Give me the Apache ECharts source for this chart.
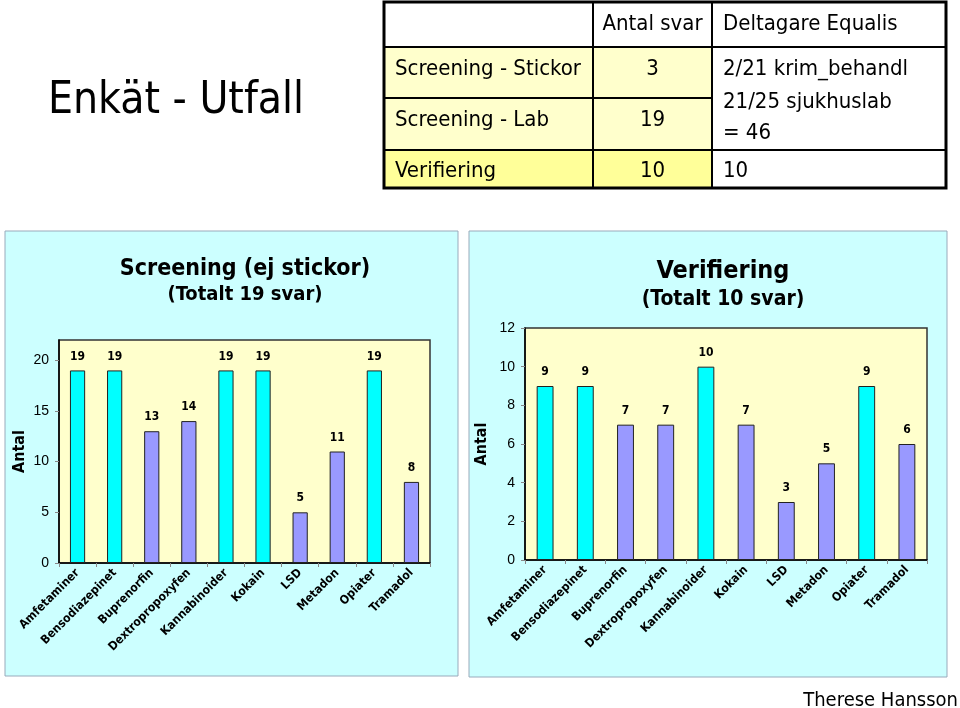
<!DOCTYPE html>
<html>
<head>
<meta charset="utf-8">
<script src="https://cdn.jsdelivr.net/npm/echarts@6/dist/echarts.min.js"></script>
<style>
html,body{margin:0;padding:0;background:#fff;}
#main{width:960px;height:708px;}
</style>
</head>
<body>
<div id="main"></div>
<script>
// ---- Data ----
const categories = ['Amfetaminer','Bensodiazepinet','Buprenorfin','Dextropropoxyfen','Kannabinoider','Kokain','LSD','Metadon','Opiater','Tramadol'];
const screeningValues = [19,19,13,14,19,19,5,11,19,8];
const verifieringValues = [9,9,7,7,10,7,3,5,9,6];
const screeningTotal = 19;
const verifieringTotal = 10;
const pageTitle = 'Enkät - Utfall';
const screeningTitle = 'Screening (ej stickor)';
const screeningSubtitle = '(Totalt 19 svar)';
const verifieringTitle = 'Verifiering';
const verifieringSubtitle = '(Totalt 10 svar)';
const yAxisName = 'Antal';
const tableHeader = ['', 'Antal svar', 'Deltagare Equalis'];
const tableRowLabels = ['Screening - Stickor', 'Screening - Lab', 'Verifiering'];
const tableRowCounts = ['3', '19', '10'];
const tableEqualisLines = ['2/21 krim_behandl', '21/25 sjukhuslab', '= 46'];
const tableVerifieringEqualis = '10';
const author = 'Therese Hansson';

// ---- Styles ----
const FONT = "'DejaVu Sans Condensed', 'Liberation Sans', sans-serif";
const ARIAL = "'Liberation Sans', Arial, sans-serif";
const CYAN = '#00FFFF';
const PURPLE = '#9999FF';
const PANEL = '#CCFFFF';
const PLOT = '#FFFFCC';

const chart = echarts.init(document.getElementById('main'), null, {renderer: 'canvas'});

function colorFor(total) {
  return function (p) { return p.value / total >= 0.9 ? CYAN : PURPLE; };
}

function xAxisCfg(gridIndex) {
  return {
    type: 'category', gridIndex: gridIndex, data: categories,
    axisLine: {show: true, lineStyle: {color: '#000', width: 1.5}},
    axisTick: {show: true, interval: 0, length: 4, lineStyle: {color: '#888'}},
    axisLabel: {interval: 0, rotate: 45, fontFamily: FONT, fontWeight: 'bold', fontSize: 12, color: '#000', margin: 8},
    splitLine: {show: false}
  };
}
function yAxisCfg(gridIndex, max, interval, gap, showMax) {
  return {
    type: 'value', gridIndex: gridIndex, min: 0, max: max, interval: interval,
    name: yAxisName, nameLocation: 'middle', nameGap: gap, nameRotate: 90,
    nameTextStyle: {fontFamily: FONT, fontWeight: 'bold', fontSize: 16, color: '#000'},
    axisLine: {show: true, lineStyle: {color: '#000', width: 1.5}},
    axisTick: {show: true, length: 4, lineStyle: {color: '#888'}},
    axisLabel: {fontFamily: ARIAL, fontSize: 14, color: '#000', margin: 10, showMaxLabel: showMax},
    splitLine: {show: false}
  };
}
function barSeries(idx, values, total, width) {
  return {
    type: 'bar', xAxisIndex: idx, yAxisIndex: idx, data: values, barWidth: width,
    itemStyle: {color: colorFor(total), borderColor: '#222', borderWidth: 1},
    label: {show: true, position: 'top', distance: 8, fontFamily: FONT, fontWeight: 'bold', fontSize: 12, color: '#000'}
  };
}

// table geometry
const tx = [384, 593, 712, 946];
const ty = [2, 47, 98, 150, 188];
const tableGraphics = [];
tableGraphics.push({type: 'rect', shape: {x: tx[0], y: ty[1], width: tx[2]-tx[0], height: ty[3]-ty[1]}, style: {fill: '#FFFFCC'}});
tableGraphics.push({type: 'rect', shape: {x: tx[0], y: ty[3], width: tx[2]-tx[0], height: ty[4]-ty[3]}, style: {fill: '#FFFF99'}});
const lineStyle = {stroke: '#000', lineWidth: 2};
tableGraphics.push({type: 'line', shape: {x1: tx[1], y1: ty[0], x2: tx[1], y2: ty[4]}, style: lineStyle});
tableGraphics.push({type: 'line', shape: {x1: tx[2], y1: ty[0], x2: tx[2], y2: ty[4]}, style: lineStyle});
tableGraphics.push({type: 'line', shape: {x1: tx[0], y1: ty[1], x2: tx[3], y2: ty[1]}, style: lineStyle});
tableGraphics.push({type: 'line', shape: {x1: tx[0], y1: ty[2], x2: tx[2], y2: ty[2]}, style: lineStyle});
tableGraphics.push({type: 'line', shape: {x1: tx[0], y1: ty[3], x2: tx[3], y2: ty[3]}, style: lineStyle});
tableGraphics.push({type: 'rect', shape: {x: tx[0], y: ty[0], width: tx[3]-tx[0], height: ty[4]-ty[0]}, style: {fill: 'none', stroke: '#000', lineWidth: 3}});
function ttext(t, x, y, align) {
  return {type: 'text', x: x, y: y, style: {text: t, fill: '#000', font: '22px ' + FONT, textAlign: align || 'left', textVerticalAlign: 'middle'}};
}
const c2 = (tx[1]+tx[2])/2;
tableGraphics.push(ttext(tableHeader[1], c2, 24, 'center'));
tableGraphics.push(ttext(tableHeader[2], 723, 24));
tableGraphics.push(ttext(tableRowLabels[0], 395, 69));
tableGraphics.push(ttext(tableRowLabels[1], 395, 120));
tableGraphics.push(ttext(tableRowLabels[2], 395, 171));
tableGraphics.push(ttext(tableRowCounts[0], c2, 69, 'center'));
tableGraphics.push(ttext(tableRowCounts[1], c2, 120, 'center'));
tableGraphics.push(ttext(tableRowCounts[2], c2, 171, 'center'));
tableGraphics.push(ttext(tableEqualisLines[0], 723, 69));
tableGraphics.push(ttext(tableEqualisLines[1], 723, 102));
tableGraphics.push(ttext(tableEqualisLines[2], 723, 133));
tableGraphics.push(ttext(tableVerifieringEqualis, 723, 171));

const option = {
  animation: false,
  backgroundColor: '#fff',
  graphic: [
    {type: 'rect', z: -10, shape: {x: 5, y: 231, width: 453, height: 445}, style: {fill: PANEL, stroke: '#9AB', lineWidth: 1}},
    {type: 'rect', z: -10, shape: {x: 469, y: 231, width: 478, height: 446}, style: {fill: PANEL, stroke: '#9AB', lineWidth: 1}},
    {type: 'text', x: 176, y: 102, style: {text: pageTitle, fill: '#000', font: '44px ' + FONT, textAlign: 'center', textVerticalAlign: 'middle'}},
    {type: 'text', x: 958, y: 701, style: {text: author, fill: '#000', font: '20px ' + FONT, textAlign: 'right', textVerticalAlign: 'middle'}}
  ].concat(tableGraphics),
  title: [
    {text: screeningTitle, subtext: screeningSubtitle, left: 240, top: 253, textAlign: 'center', itemGap: 4,
     textStyle: {fontFamily: FONT, fontWeight: 'bold', fontSize: 23, color: '#000'},
     subtextStyle: {fontFamily: FONT, fontWeight: 'bold', fontSize: 20, color: '#000'}},
    {text: verifieringTitle, subtext: verifieringSubtitle, left: 718, top: 254, textAlign: 'center', itemGap: 5,
     textStyle: {fontFamily: FONT, fontWeight: 'bold', fontSize: 25, color: '#000'},
     subtextStyle: {fontFamily: FONT, fontWeight: 'bold', fontSize: 21, color: '#000'}}
  ],
  grid: [
    {left: 59, top: 340, width: 371, height: 223, show: true, backgroundColor: PLOT, borderColor: '#333', borderWidth: 1.5, containLabel: false},
    {left: 525, top: 328, width: 402, height: 232, show: true, backgroundColor: PLOT, borderColor: '#333', borderWidth: 1.5, containLabel: false}
  ],
  xAxis: [xAxisCfg(0), xAxisCfg(1)],
  yAxis: [yAxisCfg(0, 22, 5, 31, false), yAxisCfg(1, 12, 2, 35, true)],
  series: [
    barSeries(0, screeningValues, screeningTotal, '41%'),
    barSeries(1, verifieringValues, verifieringTotal, '42%')
  ]
};
chart.setOption(option);
</script>
</body>
</html>
